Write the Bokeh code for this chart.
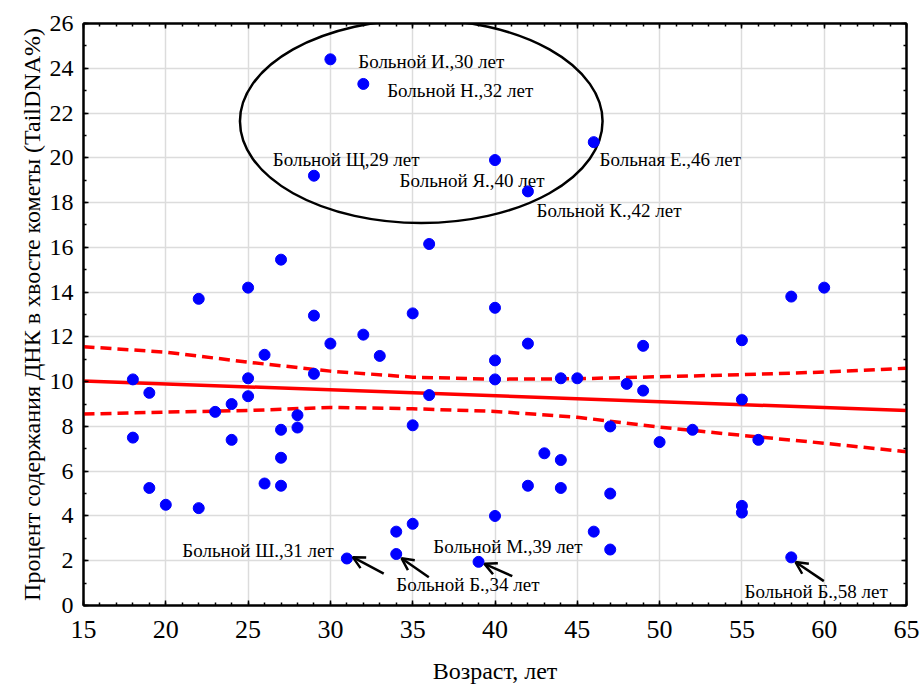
from bokeh.plotting import figure
from bokeh.models import (LinearAxis, Arrow, OpenHead, Range1d, SingleIntervalTicker,
                          ColumnDataSource)
from bokeh.core.properties import value
from bokeh.embed import file_html
from bokeh.resources import INLINE

# ---------------- data ----------------
age = [18, 18, 19, 19, 20, 22, 22, 23, 24, 24, 25, 25, 25, 26, 26, 27, 27, 27, 27,
       28, 28, 29, 29, 29, 30, 30, 31, 32, 32, 33, 34, 34, 35, 35, 35, 36, 36, 39,
       40, 40, 40, 40, 40, 42, 42, 42, 43, 44, 44, 44, 45, 46, 46, 47, 47, 47, 48,
       49, 49, 50, 52, 55, 55, 55, 55, 56, 58, 58, 60]
tail_dna = [10.1, 7.5, 9.5, 5.25, 4.5, 13.7, 4.35, 8.65, 9.0, 7.4, 14.2, 10.15, 9.35,
            11.2, 5.45, 15.45, 7.85, 6.6, 5.35, 8.5, 7.95, 19.2, 12.95, 10.35, 11.7,
            24.4, 2.1, 23.3, 12.1, 11.15, 3.3, 2.3, 3.65, 13.05, 8.05, 16.15, 9.4, 1.95,
            19.9, 13.3, 10.95, 10.1, 4.0, 18.5, 11.7, 5.35, 6.8, 10.15, 6.5, 5.25, 10.15,
            20.7, 3.3, 8.0, 5.0, 2.5, 9.9, 11.6, 9.6, 7.3, 7.85, 11.85, 9.2, 4.45, 4.15,
            7.4, 13.8, 2.15, 14.2]

fit_x = [15, 65]
fit_y = [10.03, 8.71]

band_x = [15, 20, 25, 30, 35, 40, 45, 50, 55, 60, 65]
band_upper = [11.56, 11.32, 10.87, 10.47, 10.2, 10.11, 10.13, 10.22, 10.31, 10.43, 10.6]
band_lower = [8.55, 8.64, 8.71, 8.85, 8.79, 8.67, 8.41, 7.97, 7.6, 7.25, 6.87]

labels = ["Больной И.,30 лет", "Больной Н.,32 лет", "Больной Щ,29 лет",
          "Больной Я.,40 лет", "Больная Е.,46 лет", "Больной К.,42 лет",
          "Больной Ш.,31 лет", "Больной Б.,34 лет", "Больной М.,39 лет",
          "Больной Б.,58 лет"]
label_x = [31.69, 33.45, 26.50, 34.20, 46.35, 42.52, 21.0, 34.0, 36.25, 55.16]
label_y = [24.32, 23.00, 19.94, 18.97, 19.94, 17.66, 2.47, 0.95, 2.65, 0.64]

arrow_x0 = [33.24, 35.98, 41.05, 59.98]
arrow_y0 = [1.42, 1.26, 1.31, 1.09]
arrow_x1 = [31.36, 34.32, 39.36, 58.26]
arrow_y1 = [2.16, 2.11, 1.86, 1.94]

ellipse_cx, ellipse_cy, ellipse_w, ellipse_h = 35.52, 21.63, 22.03, 9.09

FONT = "Liberation Serif"

# ---------------- figure ----------------
p = figure(width=921, height=686, x_range=Range1d(15, 65), y_range=Range1d(0, 26),
           output_backend="svg", toolbar_location=None,
           min_border_left=83, min_border_right=15, min_border_top=23,
           min_border_bottom=81,
           x_axis_label="Возраст, лет",
           y_axis_label="Процент содержания ДНК в хвосте кометы (TailDNA%)")

p.outline_line_color = "black"
p.outline_line_width = 2
p.background_fill_color = "white"
p.border_fill_color = "white"

xt = SingleIntervalTicker(interval=5, num_minor_ticks=5)
yt = SingleIntervalTicker(interval=2, num_minor_ticks=2)
p.xaxis.ticker = xt
p.yaxis.ticker = yt
p.xgrid.ticker = xt
p.ygrid.ticker = yt
for g in (p.xgrid, p.ygrid):
    g.grid_line_color = "#dcdcdc"
    g.grid_line_width = 1.5


def style_axis(ax):
    ax.axis_line_color = "black"
    ax.axis_line_width = 2
    ax.major_tick_in = 5
    ax.major_tick_out = 0
    ax.minor_tick_in = 3
    ax.minor_tick_out = 0
    ax.major_tick_line_color = "black"
    ax.major_tick_line_width = 1.5
    ax.minor_tick_line_color = "black"
    ax.minor_tick_line_width = 1.5
    ax.major_label_text_font = FONT
    ax.major_label_text_font_size = "24px"
    ax.major_label_text_color = "black"
    ax.axis_label_text_font = FONT
    ax.axis_label_text_font_size = "24px"
    ax.axis_label_text_font_style = "normal"
    ax.axis_label_text_color = "black"


style_axis(p.xaxis[0])
style_axis(p.yaxis[0])
p.xaxis.major_label_text_font_size = "26px"
p.xaxis.major_label_standoff = 15
p.xaxis.axis_label_standoff = 17
p.yaxis.major_label_standoff = 10
p.yaxis.axis_label_standoff = 2

# mirrored tick marks on the top and right edges (no labels)
for loc, tk in (("above", xt), ("right", yt)):
    ax = LinearAxis(ticker=tk)
    style_axis(ax)
    ax.major_label_text_font_size = "1px"
    ax.major_label_text_color = None
    ax.major_label_standoff = 0
    p.add_layout(ax, loc)

# regression line and bands
p.line(fit_x, fit_y, line_color="#ff0000", line_width=3.5)
p.line(band_x, band_upper, line_color="#ff0000", line_width=3.5, line_dash="11 6")
p.line(band_x, band_lower, line_color="#ff0000", line_width=3.5, line_dash="11 6")

# annotation texts
tsrc = ColumnDataSource(dict(x=label_x, y=label_y, t=labels))
p.text(x="x", y="y", text="t", source=tsrc, text_font=value(FONT),
       text_font_size="19px", text_color="black", text_baseline="alphabetic",
       text_align="left")

# ellipse around outliers
p.ellipse(x=[ellipse_cx], y=[ellipse_cy], width=[ellipse_w], height=[ellipse_h],
          fill_color=None, line_color="black", line_width=2.5)

# points
p.scatter(age, tail_dna, size=11, fill_color="#0000ff", line_color="#0000ff")

# arrows
asrc = ColumnDataSource(dict(x0=arrow_x0, y0=arrow_y0, x1=arrow_x1, y1=arrow_y1))
p.add_layout(Arrow(end=OpenHead(size=12, line_width=2.5, line_color="black"),
                   x_start="x0", y_start="y0", x_end="x1", y_end="y1",
                   line_width=2.5, line_color="black", source=asrc))

open("out.html", "w").write(file_html(p, INLINE))
